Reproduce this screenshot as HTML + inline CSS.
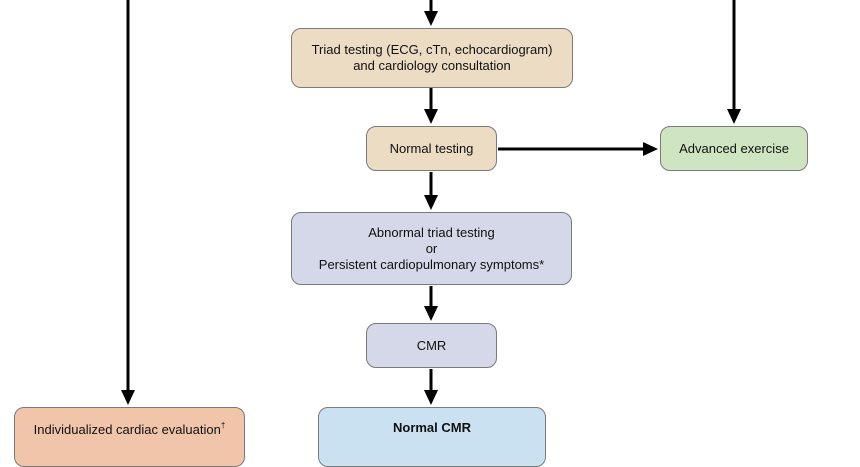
<!DOCTYPE html>
<html><head><meta charset="utf-8"><style>
html,body{margin:0;padding:0;background:#fff;}
body{width:860px;height:440px;overflow:hidden;position:relative;font-family:"Liberation Sans",sans-serif;}
.b{position:absolute;box-sizing:border-box;border:1.3px solid #7a7a7a;border-radius:10px;display:flex;align-items:center;justify-content:center;text-align:center;font-size:13px;line-height:16px;color:#111;}
.tan{background:#ecdcc4}.lav{background:#d5d8e8}.grn{background:#cfe5c1}.pch{background:#f0c5a9}.blu{background:#cae1f2}
svg{position:absolute;left:0;top:0}
sup{font-size:8px;vertical-align:6px;line-height:0}
</style></head><body>
<svg width="860" height="440">
<g stroke="#000" stroke-width="3" fill="none">
<line x1="431" y1="0" x2="431" y2="12"/>
<line x1="431" y1="88" x2="431" y2="110"/>
<line x1="431" y1="172" x2="431" y2="196"/>
<line x1="431" y1="286" x2="431" y2="307"/>
<line x1="431" y1="369" x2="431" y2="391"/>
<line x1="128" y1="0" x2="128" y2="391"/>
<line x1="734" y1="0" x2="734" y2="110"/>
<line x1="498" y1="149" x2="645" y2="149"/>
</g>
<g fill="#000">
<path d="M424,11 L438,11 L431,26 z"/>
<path d="M424,109 L438,109 L431,124 z"/>
<path d="M424,195 L438,195 L431,210 z"/>
<path d="M424,306 L438,306 L431,321 z"/>
<path d="M424,390 L438,390 L431,405 z"/>
<path d="M121,390 L135,390 L128,405 z"/>
<path d="M727,109 L741,109 L734,124 z"/>
<path d="M643,142 L643,156 L658,149 z"/>
</g></svg>
<div class="b tan" style="left:291px;top:28px;width:282px;height:60px">Triad testing (ECG, cTn, echocardiogram)<br>and cardiology consultation</div>
<div class="b tan" style="left:366px;top:126px;width:131px;height:45px">Normal testing</div>
<div class="b grn" style="left:660px;top:126px;width:148px;height:45px">Advanced exercise</div>
<div class="b lav" style="left:291px;top:212px;width:281px;height:73px">Abnormal triad testing<br>or<br>Persistent cardiopulmonary symptoms*</div>
<div class="b lav" style="left:366px;top:323px;width:131px;height:45px">CMR</div>
<div class="b pch" style="left:14px;top:407px;width:231px;height:60px;align-items:flex-start;padding-top:14px"><span>Individualized cardiac evaluation<sup>†</sup></span></div>
<div class="b blu" style="left:318px;top:407px;width:228px;height:60px;align-items:flex-start;padding-top:12px;font-weight:bold">Normal CMR</div>
</body></html>
